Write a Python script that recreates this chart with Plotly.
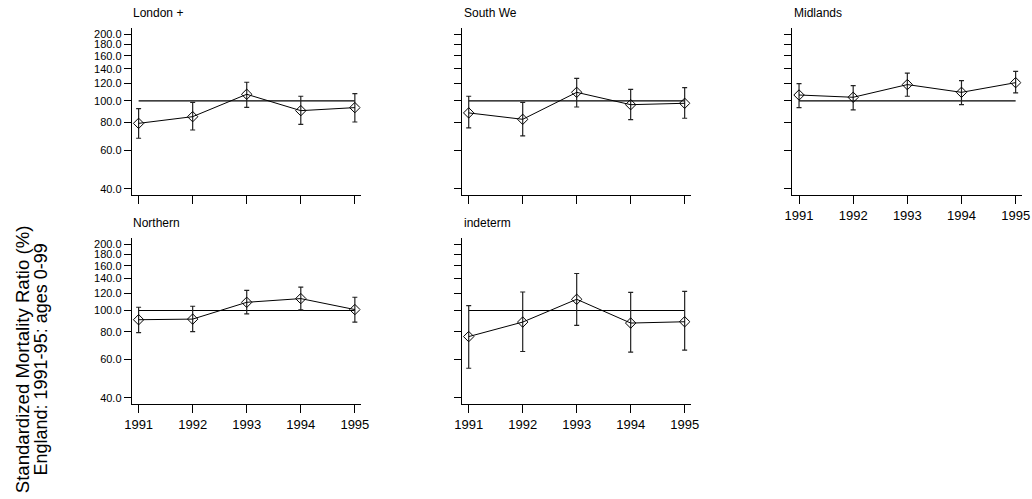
import plotly.graph_objects as go
import math

years = [1991, 1992, 1993, 1994, 1995]
regions = ["London +", "South We", "Midlands", "Northern", "indeterm"]

smr_london = [79.2, 84.9, 107.2, 90.4, 93.3]
lo_london = [67.8, 73.9, 93.6, 78.4, 80.3]
hi_london = [92.3, 98.6, 121.5, 105.0, 107.9]

smr_southwe = [88.3, 82.6, 109.4, 96.2, 97.6]
lo_southwe = [75.5, 69.5, 93.9, 82.3, 83.5]
hi_southwe = [105.0, 98.6, 126.6, 112.9, 114.9]

smr_midlands = [106.4, 103.9, 118.6, 109.4, 121.0]
lo_midlands = [93.3, 91.1, 105.0, 96.2, 108.7]
hi_midlands = [119.8, 117.3, 133.5, 123.6, 136.2]

smr_northern = [90.8, 91.4, 109.0, 113.3, 101.0]
lo_northern = [79.3, 80.1, 96.6, 100.7, 88.6]
hi_northern = [103.5, 104.6, 123.5, 127.9, 114.9]

smr_indeterm = [76.1, 88.6, 112.5, 87.7, 88.9]
lo_indeterm = [54.6, 65.1, 85.5, 64.6, 66.0]
hi_indeterm = [105.3, 121.4, 147.4, 121.0, 122.2]

ref_level = [100, 100]
ref_years = [1991, 1995]

ytick_vals = [40, 60, 80, 100, 120, 140, 160, 180, 200]
ytick_text = ["40.0", "60.0", "80.0", "100.0", "120.0", "140.0", "160.0", "180.0", "200.0"]
xtick_text = ["1991", "1992", "1993", "1994", "1995"]

ytitle1 = "Standardized Mortality Ratio (%)"
ytitle2 = "England: 1991-95: ages 0-99"

series = [
    (smr_london, lo_london, hi_london),
    (smr_southwe, lo_southwe, hi_southwe),
    (smr_midlands, lo_midlands, hi_midlands),
    (smr_northern, lo_northern, hi_northern),
    (smr_indeterm, lo_indeterm, hi_indeterm),
]

W, H = 1032, 499
FONT = "Liberation Sans, Arial, sans-serif"

def px_x(p):
    return p / W

def px_y(p):
    return 1 - p / H

xdoms = [(125.7, 358.3), (461.0, 693.3), (796.5, 1029.5), (125.7, 358.3), (461.0, 693.3)]
ydoms = [(195, 28), (195, 28), (195, 28), (404, 238), (404, 238)]
show_ylabels = [True, False, False, True, False]
show_xlabels = [False, False, True, True, True]
title_pos = [(125, 13), (461.5, 13), (796.5, 13), (125, 222.5), (461.5, 222.5)]

fig = go.Figure()
layout = dict(
    width=W, height=H,
    margin=dict(l=0, r=0, t=0, b=0),
    paper_bgcolor="white", plot_bgcolor="white",
    showlegend=False,
    font=dict(family=FONT, color="black"),
)
annotations = []
for i, (vals, lo, hi) in enumerate(series):
    k = i + 1
    xa = "x" if k == 1 else f"x{k}"
    ya = "y" if k == 1 else f"y{k}"
    fig.add_trace(go.Scatter(
        x=ref_years, y=ref_level, mode="lines",
        line=dict(color="black", width=1.2),
        xaxis=xa, yaxis=ya, hoverinfo="skip",
    ))
    fig.add_trace(go.Scatter(
        x=years, y=vals, mode="lines+markers",
        line=dict(color="black", width=1),
        marker=dict(symbol="diamond-open", size=8, color="black", line=dict(width=1, color="black")),
        error_y=dict(type="data", symmetric=False,
                     array=[h - v for h, v in zip(hi, vals)],
                     arrayminus=[v - l for v, l in zip(vals, lo)],
                     color="#222222", thickness=1.2, width=2.5),
        xaxis=xa, yaxis=ya,
    ))
    xd = xdoms[i]
    yd = ydoms[i]
    layout["xaxis" if k == 1 else f"xaxis{k}"] = dict(
        domain=[px_x(xd[0]), px_x(xd[1])],
        anchor=ya,
        range=[1990.873, 1995.109],
        tickmode="array", tickvals=years,
        ticktext=xtick_text if show_xlabels[i] else [""] * 5,
        ticks="outside", ticklen=8, tickwidth=1, tickcolor="black",
        showline=True, linecolor="black", linewidth=1,
        showgrid=False, zeroline=False,
        tickfont=dict(size=13, family=FONT, color="black"),
    )
    layout["yaxis" if k == 1 else f"yaxis{k}"] = dict(
        domain=[px_y(yd[0]), px_y(yd[1])],
        anchor=xa,
        type="log",
        range=[math.log10(37.55), math.log10(213.8)],
        tickmode="array", tickvals=ytick_vals,
        ticktext=ytick_text if show_ylabels[i] else [""] * len(ytick_vals),
        ticks="outside", ticklen=7, tickwidth=1, tickcolor="black",
        showline=True, linecolor="black", linewidth=1,
        showgrid=False, zeroline=False,
        tickfont=dict(size=11, family=FONT, color="black"),
    )
    tx, ty = title_pos[i]
    annotations.append(dict(
        text=regions[i], x=px_x(tx), y=px_y(ty), xref="paper", yref="paper",
        xanchor="left", yanchor="middle", showarrow=False,
        font=dict(size=12, family=FONT, color="black"),
    ))

annotations.append(dict(
    text=ytitle1, x=px_x(15), y=px_y(359.5), xref="paper", yref="paper",
    xanchor="center", yanchor="middle", showarrow=False, textangle=-90,
    font=dict(size=18.6, family=FONT, color="black"),
))
annotations.append(dict(
    text=ytitle2, x=px_x(33.5), y=px_y(359.5), xref="paper", yref="paper",
    xanchor="center", yanchor="middle", showarrow=False, textangle=-90,
    font=dict(size=18, family=FONT, color="black"),
))
layout["annotations"] = annotations
fig.update_layout(**layout)
fig.write_html(
    "out.html",
    config={"displayModeBar": False},
    post_script="document.body.style.margin='0';document.body.style.padding='0';document.body.style.overflow='hidden';",
)
